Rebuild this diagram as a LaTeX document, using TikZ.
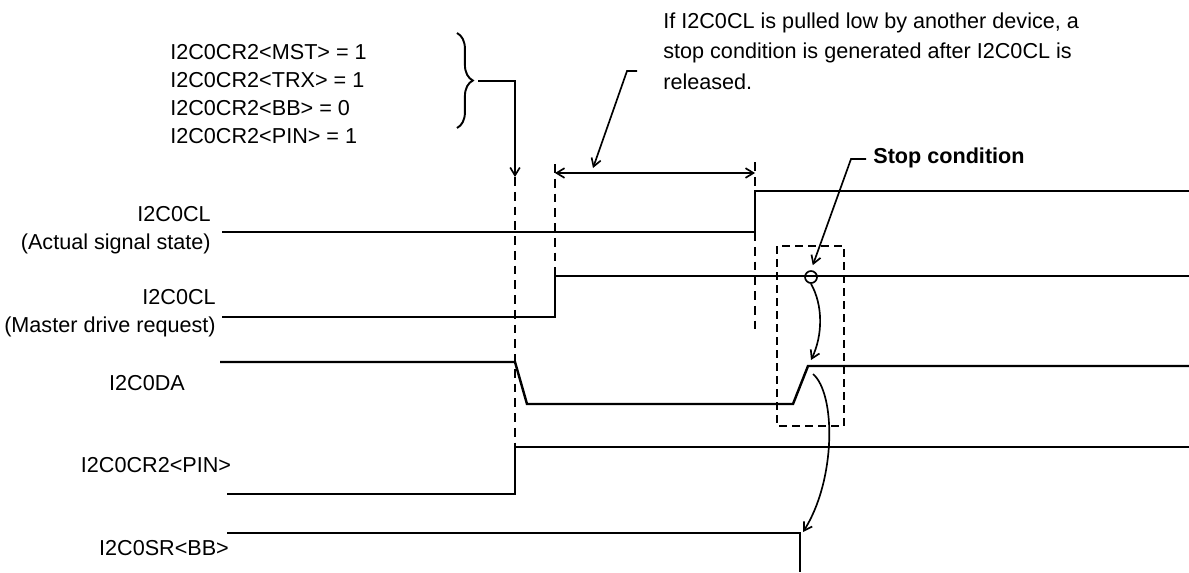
\documentclass[tikz,border=0pt]{standalone}
\usepackage{fontspec}
\setmainfont{Liberation Sans}
\usetikzlibrary{positioning, arrows.meta, calc, decorations.pathreplacing}

\begin{document}
\begin{tikzpicture}[
  x=0.02cm, y=-0.02cm,
  font=\fontsize{12.3}{16}\selectfont,
  sig/.style={line width=1.4pt},
  tmark/.style={line width=1.4pt, dash pattern=on 5pt off 3.4pt},
  box/.style={line width=0.9pt, dash pattern=on 4.8pt off 2.6pt},
  lead/.style={line width=0.95pt},
  ar/.style={lead, -{Straight Barb[length=4.5pt,width=5.5pt]}},
  lbl/.style={inner sep=0pt, align=right},
]
  \useasboundingbox (0,0) rectangle (1189,572);

  \node[lbl, anchor=north west, align=left] (cond) at (170,44)
    {I2C0CR2<MST> = 1\\I2C0CR2<TRX> = 1\\I2C0CR2<BB> = 0\\I2C0CR2<PIN> = 1};
  \node[lbl, anchor=north west, align=left, font=\fontsize{12.3}{17.6}\selectfont] (note) at (663,12)
    {If I2C0CL is pulled low by another device, a\\stop condition is generated after I2C0CL is\\released.};
  \node[lbl, anchor=west, font=\fontsize{12.3}{16}\selectfont\bfseries] (stoptxt) at (873,158) {Stop condition};

  \node[lbl, anchor=north east] (sclact) at (211,206) {I2C0CL\\(Actual signal state)};
  \node[lbl, anchor=north east] (sclreq) at (216,289) {I2C0CL\\(Master drive request)};
  \node[lbl] (sda) at (147,383) {I2C0DA};
  \node[lbl] (pin) at (156,465) {I2C0CR2<PIN>};
  \node[lbl] (bb) at (164,548) {I2C0SR<BB>};

  \draw[sig] (222,232) -- (755,232) -- (755,191) -- (1189,191);
  \draw[sig] (222,317) -- (555,317) -- (555,276) -- (1189,276);
  \draw[sig] (220,362) -- (515,362) -- (527,404) -- (793,404) -- (808,366) -- (1189,366);
  \draw[sig] (227,494) -- (515,494) -- (515,447) -- (1189,447);
  \draw[sig] (227,533) -- (800,533) -- (800,572);

  \coordinate (pintop) at (515,177);
  \coordinate (lowbeg) at (555,173);
  \coordinate (lowend) at (755,173);
  \draw[tmark] (pintop) -- (515,447);
  \draw[tmark] (555,164) -- (555,276);
  \draw[tmark] (755,162) -- (755,191);
  \draw[tmark] (755,232) -- (755,334);
  \draw[{Straight Barb[length=4.5pt,width=5.5pt]}-{Straight Barb[length=4.5pt,width=5.5pt]}, lead] (lowbeg) -- (lowend);

  \draw[lead, line width=1.1pt, decorate, decoration={brace, amplitude=9pt}] (457,33) -- (457,128);
  \coordinate (brtip) at (478,81);
  \draw[ar] (brtip) -| (pintop);

  \coordinate (noteend) at (637,71);
  \coordinate (notebend) at (627,71);
  \coordinate (notetip) at (593,168);
  \draw[ar] (noteend) -- (notebend) -- (notetip);

  \draw[box] (777,246) rectangle (844,426);
  \node[draw, circle, lead, inner sep=0pt, minimum size=0.24cm] (stopdot) at (811,277) {};
  \coordinate (stopbend) at (851,159);
  \coordinate (daup) at (811,360);
  \coordinate (dastart) at (813,374);
  \coordinate (bbfall) at (803,532);
  \draw[ar, shorten >=3pt] ($(stoptxt.west)+(-7,1)$) -- (stopbend) -- (stopdot.north);
  \draw[ar] (stopdot.south) .. controls (823,305) and (823,335) .. (daup);
  \draw[ar] (dastart) .. controls (836,394) and (836,480) .. (bbfall);
\end{tikzpicture}
\end{document}
